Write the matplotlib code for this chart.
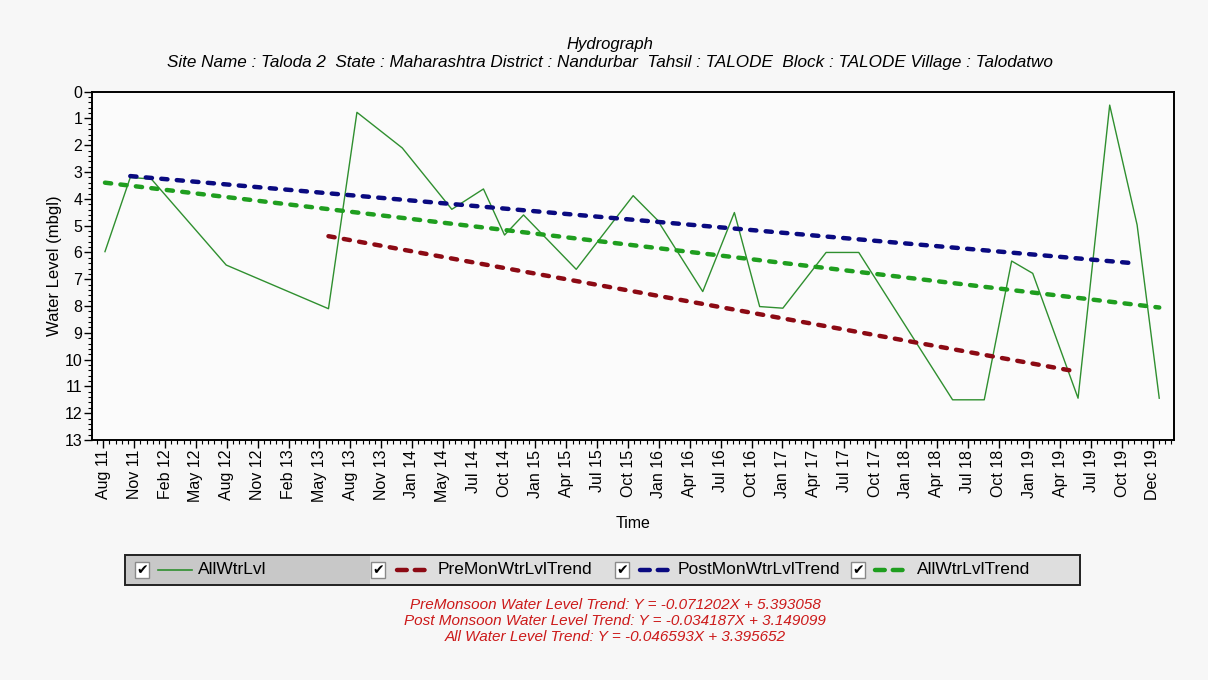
import numpy as np
import matplotlib
matplotlib.use("Agg")
import matplotlib.pyplot as plt
from matplotlib.ticker import AutoMinorLocator, MultipleLocator
from matplotlib.patches import Rectangle
from matplotlib.lines import Line2D

plt.rcParams['font.family'] = ['Liberation Sans', 'DejaVu Sans']

obs_month = [0.0, 2.4, 4.4, 11.5, 21.2, 23.9, 28.2, 32.9, 35.9, 37.9, 39.7, 44.7,
             50.1, 52.4, 56.7, 59.7, 62.1, 64.3, 68.4, 71.5, 80.4, 83.4, 86.0,
             88.0, 92.3, 95.3, 97.9, 100.0]
water_level = [5.97, 3.2, 3.26, 6.47, 8.1, 0.77, 2.1, 4.39, 3.63, 5.35, 4.6, 6.63,
               3.88, 4.79, 7.46, 4.51, 8.02, 8.08, 6.0, 6.0, 11.5, 11.5, 6.32,
               6.78, 11.44, 0.5, 4.97, 11.44]

# trend lines: Y = slope*X + intercept (X in months from the series' first point)
trend_names = ['PreMonWtrLvlTrend', 'PostMonWtrLvlTrend', 'AllWtrLvlTrend']
trend_slope = [-0.071202, -0.034187, -0.046593]
trend_icpt = [5.393058, 3.149099, 3.395652]
trend_start = [21.2, 2.4, 0.0]
trend_end = [92.3, 97.9, 100.0]
trend_colors = ['#8c0a14', '#0a0a80', '#1f9e1f']

tick_labels = ['Aug 11', 'Nov 11', 'Feb 12', 'May 12', 'Aug 12', 'Nov 12', 'Feb 13',
               'May 13', 'Aug 13', 'Nov 13', 'Jan 14', 'May 14', 'Jul 14', 'Oct 14',
               'Jan 15', 'Apr 15', 'Jul 15', 'Oct 15', 'Jan 16', 'Apr 16', 'Jul 16',
               'Oct 16', 'Jan 17', 'Apr 17', 'Jul 17', 'Oct 17', 'Jan 18', 'Apr 18',
               'Jul 18', 'Oct 18', 'Jan 19', 'Apr 19', 'Jul 19', 'Oct 19', 'Dec 19']

trend_text = ['PreMonsoon Water Level Trend: Y = -0.071202X + 5.393058',
              'Post Monsoon Water Level Trend: Y = -0.034187X + 3.149099',
              'All Water Level Trend: Y = -0.046593X + 3.395652']

W, H = 1208, 680
fig = plt.figure(figsize=(W / 100, H / 100), dpi=100, facecolor='#f7f7f7')
ax = fig.add_axes([92 / W, 1 - 440 / H, (1174 - 92) / W, (440 - 91.7) / H])
ax.set_facecolor('#fbfbfb')

def fx(px):
    return px / W

def fy(py):
    return 1 - py / H

DASH = (0, (1.4, 2.1))

# data line
ax.plot(obs_month, water_level, color='#2f8f2f', lw=1.0, zorder=2)

# trend lines (plotted as depth below ground)
for s, b, x0, x1, c in zip(trend_slope, trend_icpt, trend_start, trend_end, trend_colors):
    xs = np.array([x0, x1])
    ys = b - s * (xs - x0)
    ax.plot(xs, ys, color=c, lw=3.2, ls=DASH, dash_capstyle='round', zorder=3)

ax.set_xlim(-1.23, 101.4)
ax.set_ylim(13, 0)
ax.set_xticks(np.linspace(-0.16, 99.4, len(tick_labels)))
ax.set_xticklabels(tick_labels, rotation=90, fontsize=11.5)
ax.xaxis.set_minor_locator(AutoMinorLocator(5))
ax.yaxis.set_major_locator(MultipleLocator(1))
ax.yaxis.set_minor_locator(AutoMinorLocator(5))
ax.tick_params(axis='both', which='major', length=6, width=1, labelsize=11.5, pad=1)
ax.tick_params(axis='both', which='minor', length=3, width=0.8)
for sp in ax.spines.values():
    sp.set_linewidth(1.4)

ax.set_xlabel('Time', fontsize=11.5, labelpad=10)
ax.set_ylabel('Water Level (mbgl)', fontsize=12, labelpad=2)

# titles
fig.text(fx(610), fy(45), 'Hydrograph', ha='center', va='center', style='italic', fontsize=12)
fig.text(fx(610), fy(63),
         'Site Name : Taloda 2  State : Maharashtra District : Nandurbar  Tahsil : TALODE  '
         'Block : TALODE Village : Talodatwo',
         ha='center', va='center', style='italic', fontsize=12.3)

# legend strip with check boxes
fig.patches.append(Rectangle((fx(125), fy(585)), fx(1080) - fx(125), fy(555) - fy(585),
                             transform=fig.transFigure, facecolor='#dedede',
                             edgecolor='#222222', lw=1.4, zorder=1))
fig.patches.append(Rectangle((fx(126), fy(584)), fx(370) - fx(126), fy(556) - fy(584),
                             transform=fig.transFigure, facecolor='#c8c8c8',
                             edgecolor='none', zorder=1))
leg_names = ['AllWtrLvl'] + trend_names
leg_colors = ['#2f8f2f'] + trend_colors
box_x = [142, 378, 622, 858]
line_x = [(158, 192), (397, 430), (640, 670), (875, 910)]
text_x = [198, 438, 678, 917]
cy = 570
for name, col, bx, (l0, l1), tx in zip(leg_names, leg_colors, box_x, line_x, text_x):
    fig.patches.append(Rectangle((fx(bx - 7), fy(cy + 8)), fx(14), fy(cy - 8) - fy(cy + 8),
                                 transform=fig.transFigure, facecolor='white',
                                 edgecolor='#8a8a8a', lw=1, zorder=2))
    fig.text(fx(bx), fy(cy), '\u2714', ha='center', va='center', fontsize=10,
             family='DejaVu Sans', color='black', zorder=3)
    if name == 'AllWtrLvl':
        fig.lines.append(Line2D([fx(l0), fx(l1)], [fy(cy), fy(cy)], transform=fig.transFigure,
                                color=col, lw=1.2))
    else:
        fig.lines.append(Line2D([fx(l0), fx(l1)], [fy(cy), fy(cy)], transform=fig.transFigure,
                                color=col, lw=3.2, ls=(0, (2.2, 1.8)), dash_capstyle='round'))
    fig.text(fx(tx), fy(cy), name, ha='left', va='center', fontsize=12.5)

# trend equations
for i, t in enumerate(trend_text):
    fig.text(fx(615), fy(605 + 16 * i), t, ha='center', va='center', style='italic',
             fontsize=11, color='#cc1a1a')

fig.savefig('out.png', dpi=100, facecolor=fig.get_facecolor())
